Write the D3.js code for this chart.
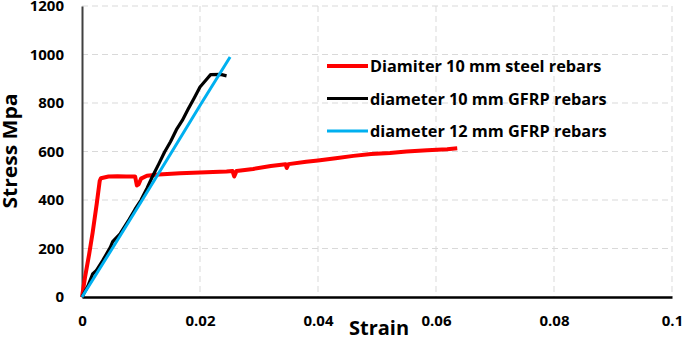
<!DOCTYPE html>
<head>
  <meta charset="utf-8">
  <style>
    body { margin: 0; background: #fff; overflow: hidden; }
    svg { display: block; }
    text { font-family: 'Open Sans', 'Noto Sans', sans-serif; font-weight: bold; fill: #000; }
    .tick text { font-size: 15px; }
  </style>
</head>
<body>
  <script src="https://cdn.jsdelivr.net/npm/d3@7"></script>
  <script>
    const width = 685;
    const height = 340;
    const margin = {top: 6, right: 13, bottom: 43, left: 82};
    const innerWidth = width - margin.left - margin.right;
    const innerHeight = height - margin.top - margin.bottom;

    // tick values
    const xTicks = [0, 0.02, 0.04, 0.06, 0.08, 0.1];
    const yTicks = [0, 200, 400, 600, 800, 1000, 1200];

    // series names / colours
    const seriesNames = ["Diamiter 10 mm steel rebars", "diameter 10 mm GFRP rebars", "diameter 12 mm GFRP rebars"];
    const seriesColors = ["#ff0000", "#000000", "#00b0f0"];
    const seriesWidths = [4, 3.2, 3];

    // steel 10 mm: [strain, stress]
    const steel10 = [
      [0, 0], [0.0005, 80], [0.0012, 175], [0.0018, 265], [0.0025, 385], [0.003, 478], [0.0032, 490],
      [0.0045, 497], [0.006, 498], [0.0075, 497], [0.009, 497], [0.0093, 460], [0.0096, 465],
      [0.0100, 488], [0.011, 500], [0.013, 505], [0.0166, 510], [0.02, 513], [0.0222, 515],
      [0.0245, 518], [0.0255, 520], [0.0258, 497], [0.0262, 520], [0.029, 528], [0.032, 540],
      [0.0345, 547], [0.0347, 532], [0.035, 548], [0.038, 558], [0.04, 563], [0.043, 572],
      [0.046, 582], [0.049, 590], [0.0522, 594], [0.055, 600], [0.0585, 605], [0.0619, 609],
      [0.0636, 613]
    ];
    // GFRP 10 mm
    const gfrp10 = [
      [0, 0], [0.001, 45], [0.0018, 95], [0.0024, 108], [0.0035, 150], [0.0048, 205], [0.0052, 228],
      [0.0065, 262], [0.008, 320], [0.009, 362], [0.010, 400], [0.011, 448], [0.012, 500],
      [0.013, 548], [0.014, 598], [0.015, 640], [0.016, 690], [0.017, 728], [0.018, 775],
      [0.019, 820], [0.020, 866], [0.0212, 900], [0.0218, 917], [0.0235, 918], [0.0245, 912]
    ];
    // GFRP 12 mm
    const gfrp12 = [
      [0, 0], [0.005, 195], [0.01, 392], [0.015, 590], [0.02, 790], [0.0251, 990]
    ];
    const allSeries = [steel10, gfrp10, gfrp12];

    const svg = d3.select("body").append("svg")
      .attr("width", width)
      .attr("height", height);
    const g = svg.append("g")
      .attr("transform", "translate(" + margin.left + "," + margin.top + ")");

    const x = d3.scaleLinear().domain([0, 0.1]).range([0, innerWidth]);
    const y = d3.scaleLinear().domain([0, 1200]).range([innerHeight, 0]);

    // gridlines
    g.append("g").selectAll("line").data(yTicks.slice(1)).enter().append("line")
      .attr("x1", 0).attr("x2", innerWidth)
      .attr("y1", d => y(d)).attr("y2", d => y(d))
      .attr("stroke", "#d9d9d9").attr("stroke-width", 1).attr("stroke-dasharray", "6,4");
    g.append("g").selectAll("line").data(xTicks.slice(1)).enter().append("line")
      .attr("x1", d => x(d)).attr("x2", d => x(d))
      .attr("y1", 0).attr("y2", innerHeight)
      .attr("stroke", "#d9d9d9").attr("stroke-width", 1).attr("stroke-dasharray", "6,4");

    // axes
    const xAxis = g.append("g")
      .attr("transform", "translate(0," + innerHeight + ")")
      .call(d3.axisBottom(x).tickValues(xTicks).tickSize(0).tickPadding(18).tickFormat(d3.format("~g")));
    xAxis.select(".domain").attr("stroke", "#000").attr("stroke-width", 2.5);

    const yAxis = g.append("g")
      .call(d3.axisLeft(y).tickValues(yTicks).tickSize(0).tickPadding(18).tickFormat(d3.format("d")));
    yAxis.select(".domain").attr("stroke", "#404040").attr("stroke-width", 2);

    // lines
    const line = d3.line().x(d => x(d[0])).y(d => y(d[1]));
    allSeries.forEach((s, i) => {
      g.append("path").datum(s)
        .attr("fill", "none")
        .attr("stroke", seriesColors[i])
        .attr("stroke-width", seriesWidths[i])
        .attr("stroke-linejoin", "round")
        .attr("d", line);
    });

    // axis titles
    svg.append("text")
      .attr("transform", "translate(16.5,151) rotate(-90)")
      .attr("text-anchor", "middle")
      .attr("textLength", 115)
      .attr("lengthAdjust", "spacingAndGlyphs")
      .style("font-size", "20px")
      .text("Stress Mpa");
    svg.append("text")
      .attr("x", 379).attr("y", 335)
      .attr("text-anchor", "middle")
      .style("font-size", "20px")
      .text("Strain");

    // legend
    const legend = svg.append("g");
    seriesNames.forEach((name, i) => {
      const ly = 66 + i * 32.5;
      legend.append("line")
        .attr("x1", 327).attr("x2", 368)
        .attr("y1", ly).attr("y2", ly)
        .attr("stroke", seriesColors[i])
        .attr("stroke-width", seriesWidths[i]);
      legend.append("text")
        .attr("x", 370).attr("y", ly + 6)
        .style("font-size", "16.3px")
        .text(name);
    });
  </script>
</body>
